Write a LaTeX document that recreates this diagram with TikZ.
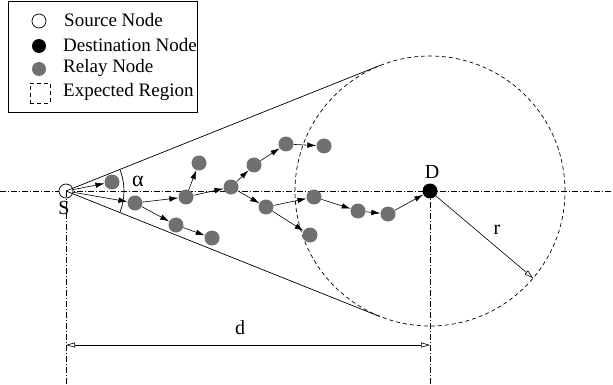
\documentclass[tikz,border=0pt]{standalone}
\usepackage{fontspec}
\setmainfont{Liberation Serif}
\usetikzlibrary{arrows.meta,calc}
\definecolor{relaygray}{RGB}{112,112,112}
\tikzset{openarrow/.tip={Triangle[open,length=9pt,width=5pt]}}
\begin{document}
\begin{tikzpicture}[x=1pt,y=-1pt,
  font=\fontsize{19}{21}\selectfont,
  relay/.style={circle,fill=relaygray,minimum size=15pt,inner sep=0pt},
  srcnode/.style={circle,draw,fill=white,minimum size=14pt,inner sep=0pt,line width=0.7pt},
  dstnode/.style={circle,fill=black,minimum size=15pt,inner sep=0pt},
  hop/.style={-{Latex[length=9pt,width=5.5pt]},line width=0.6pt},
  dashdot/.style={line width=0.6pt,dash pattern=on 6pt off 2pt on 1pt off 2pt},
  region/.style={line width=0.7pt,dash pattern=on 4pt off 3pt},
  lbl/.style={inner sep=0pt,font=\fontsize{20}{22}\selectfont}]
\useasboundingbox (0,0) rectangle (613,385);
% axes
\coordinate (axl) at (0,191);
\coordinate (axr) at (613,191);
\draw[dashdot] (axl) -- (axr);
\node[srcnode] (S) at (66,191) {};
\node[dstnode] (D) at (430,191) {};
\coordinate (sb) at (66,385);
\coordinate (db) at (430,385);
\draw[dashdot] (S.center) -- (sb);
\draw[dashdot] (D.center) -- (db);
% expected region
\draw[region] (D.center) circle[radius=135pt];
\coordinate (tu) at ($(S.center)+(-21.8:338)$);
\coordinate (td) at ($(S.center)+(21.8:338)$);
\draw[line width=0.7pt] (S.center) -- (tu);
\draw[line width=0.7pt] (S.center) -- (td);
% angle
\coordinate (a1) at ($(S.center)+(-21.8:58)$);
\draw[line width=0.7pt] (a1) arc[start angle=-21.8,end angle=21.8,radius=58];
\node[lbl,font=\fontsize{22}{24}\selectfont] (alpha) at (138,181) {α};
% labels
\node[lbl] (Slbl) at (64,208) {S};
\node[lbl] (Dlbl) at (432,172) {D};
% radius
\coordinate (rend) at ($(D.center)+(40.2:135)$);
\draw[line width=0.6pt,-openarrow] (D.center) -- (rend);
\node[lbl] (rlbl) at (497,230) {r};
% distance
\coordinate (d1) at (66,345);
\coordinate (d2) at (430,345);
\draw[line width=0.6pt,openarrow-openarrow] (d1) -- (d2);
\node[lbl] (dlbl) at (240,328) {d};
% relays
\node[relay] (n1) at (112,182) {};
\node[relay] (n2) at (135,203) {};
\node[relay] (n3) at (186,197) {};
\node[relay] (n4) at (199,163) {};
\node[relay] (n5) at (176,225) {};
\node[relay] (n6) at (212,238) {};
\node[relay] (n7) at (231,187) {};
\node[relay] (n8) at (254,165) {};
\node[relay] (n9) at (286,144) {};
\node[relay] (n10) at (324,146) {};
\node[relay] (n11) at (266,207) {};
\node[relay] (n12) at (314,197) {};
\node[relay] (n13) at (310,235) {};
\node[relay] (n14) at (358,211) {};
\node[relay] (n15) at (388,214) {};
% hops
\draw[hop] (S) -- (n1);
\draw[hop] (S) -- (n2);
\draw[hop] (n2) -- (n5);
\draw[hop] (n2) -- (n3);
\draw[hop] (n5) -- (n6);
\draw[hop] (n3) -- (n4);
\draw[hop] (n3) -- (n7);
\draw[hop] (n7) -- (n8);
\draw[hop] (n8) -- (n9);
\draw[hop] (n9) -- (n10);
\draw[hop] (n7) -- (n11);
\draw[hop] (n11) -- (n12);
\draw[hop] (n11) -- (n13);
\draw[hop] (n12) -- (n14);
\draw[hop] (n14) -- (n15);
\draw[hop] (n15) -- (D);
% legend
\node[draw,line width=0.7pt,minimum width=189pt,minimum height=111pt,anchor=north west,inner sep=0pt] (legend) at (8,1) {};
\node[srcnode] (ls) at (39,21) {};
\node[dstnode,minimum size=14pt] (ld) at (39,46) {};
\node[relay,minimum size=14pt] (lr) at (39,69) {};
\node[region,draw,minimum size=20pt,inner sep=0pt] (le) at (40,93) {};
\node[inner sep=0pt,anchor=west] (lst) at (64,20) {Source Node};
\node[inner sep=0pt,anchor=west] (ldt) at (63,45) {Destination Node};
\node[inner sep=0pt,anchor=west] (lrt) at (63,68) {Relay Node};
\node[inner sep=0pt,anchor=west] (let) at (63,92) {Expected Region};
\end{tikzpicture}
\end{document}
